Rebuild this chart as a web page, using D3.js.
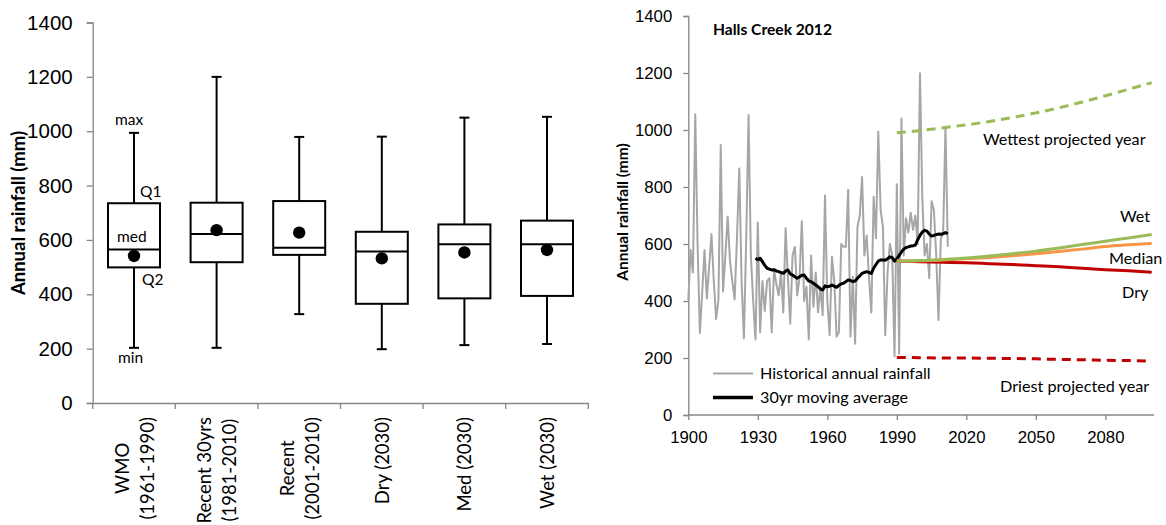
<!DOCTYPE html>
<html><head><meta charset="utf-8">
<script src="https://cdn.jsdelivr.net/npm/d3@7"></script>
<style>
html,body{margin:0;padding:0;background:#fff;}
svg{display:block;font-family:Lato,"Liberation Sans",Arial,sans-serif;}
</style></head>
<body><svg id="c" width="1166" height="525"></svg>
<script>
// ---------- Left chart data (box plots) ----------
const categories = [["WMO","(1961-1990)"],["Recent 30yrs","(1981-2010)"],["Recent","(2001-2010)"],["Dry (2030)"],["Med (2030)"],["Wet (2030)"]];
const boxMin  = [203, 203, 327, 198, 213, 217];
const boxQ1   = [499, 518, 545, 365, 385, 394];
const boxMed  = [565, 622, 571, 557, 584, 584];
const boxQ3   = [735, 737, 743, 630, 657, 671];
const boxMax  = [994, 1200, 979, 980, 1050, 1053];
const boxMean = [541, 636, 627, 532, 554, 563];
const leftTicks = [0,200,400,600,800,1000,1200,1400];

// ---------- Right chart data ----------
const histStart = 1900;
const histRain = [403,579,500,1055,600,288,430,579,409,520,635,470,337,403,947,433,560,696,540,470,406,620,865,470,269,620,1053,560,400,265,
675,290,470,365,470,480,290,510,460,420,500,360,655,480,320,560,590,420,480,680,400,450,265,560,380,500,360,450,350,770,
400,280,555,470,275,290,600,590,590,790,275,485,250,660,700,835,560,630,480,360,766,620,995,720,660,280,500,600,560,205,
810,215,1040,560,690,640,710,650,700,600,1199,760,560,600,480,750,720,560,333,620,640,1010,590];
const avgStart = 1929;
const movingAvg = [550,545,550,538,525,515,512,509,510,505,503,500,497,505,509,495,491,485,480,485,490,491,480,470,468,462,456,450,442,439,453,
450,452,456,452,448,455,460,462,468,474,472,468,470,480,488,497,500,503,500,497,515,528,540,544,544,543,548,555,552,540,
548,560,572,582,588,590,593,594,596,615,630,642,648,645,635,628,630,633,635,634,636,640,636];
const projYears = [1990,2000,2010,2020,2030,2040,2050,2060,2070,2080,2090,2100];
const wettest = [990,998,1008,1018,1030,1044,1060,1078,1098,1120,1143,1166];
const wet     = [540,542,546,551,558,566,575,586,598,610,621,633];
const median  = [540,541,544,548,553,559,566,574,582,591,597,602];
const dry     = [540,538,536,534,531,528,524,520,515,510,506,501];
const driest  = [202,201,200,200,199,198,197,195,194,192,191,189];
const rightYTicks = [0,200,400,600,800,1000,1200,1400];
const rightXTicks = [1900,1930,1960,1990,2020,2050,2080];

const svg = d3.select("#c");
const axisCol = "#868686";

// ================= LEFT CHART =================
const L = svg.append("g");
const xL = d3.scaleBand().domain(d3.range(categories.length)).range([92.7, 588.3]).padding(0);
const yL = d3.scaleLinear().domain([0,1400]).range([403, 22.5]);

const yAxL = L.append("g").attr("transform","translate(92.7,0)")
  .call(d3.axisLeft(yL).tickValues(leftTicks).tickSize(6).tickPadding(14).tickFormat(d3.format("d")));
const xAxL = L.append("g").attr("transform","translate(0,403)")
  .call(d3.axisBottom(xL).tickSize(0).tickFormat(""));
[yAxL, xAxL].forEach(a=>{ a.select(".domain").attr("stroke",axisCol).attr("stroke-width",1.3);
  a.selectAll(".tick line").attr("stroke",axisCol).attr("stroke-width",1.3); });
yAxL.selectAll(".tick text").attr("font-size",20.5).attr("fill","#000");
// category boundary ticks
const bounds = d3.range(categories.length+1).map(i => i < categories.length ? xL(i) : xL.range()[1]);
L.append("g").selectAll("line").data(bounds).join("line")
  .attr("x1",d=>d).attr("x2",d=>d).attr("y1",403).attr("y2",409)
  .attr("stroke",axisCol).attr("stroke-width",1.3);

// category labels (rotated)
const labG = L.append("g");
categories.forEach((lines,i)=>{
  const cx = xL(i) + xL.bandwidth()/2;
  const g = labG.append("g");
  const ts = lines.map((t,j)=> g.append("text").text(t).attr("font-size",18.5).attr("fill","#000")
      .attr("text-anchor","middle").attr("dominant-baseline","central"));
  const maxLen = d3.max(ts, t=>t.node().getComputedTextLength());
  const cy = 417 + maxLen/2;
  const n = lines.length;
  ts.forEach((t,j)=>{
    const off = (j - (n-1)/2) * 25;
    t.attr("transform",`translate(${cx+off},${cy}) rotate(-90)`);
  });
});

// boxes
const bw = 52, cap = 10;
const boxG = L.append("g").attr("stroke","#000").attr("stroke-width",2).attr("fill","none");
categories.forEach((c,i)=>{
  const cx = xL(i) + xL.bandwidth()/2;
  boxG.append("line").attr("x1",cx).attr("x2",cx).attr("y1",yL(boxMax[i])).attr("y2",yL(boxQ3[i]));
  boxG.append("line").attr("x1",cx).attr("x2",cx).attr("y1",yL(boxQ1[i])).attr("y2",yL(boxMin[i]));
  boxG.append("line").attr("x1",cx-cap/2).attr("x2",cx+cap/2).attr("y1",yL(boxMax[i])).attr("y2",yL(boxMax[i]));
  boxG.append("line").attr("x1",cx-cap/2).attr("x2",cx+cap/2).attr("y1",yL(boxMin[i])).attr("y2",yL(boxMin[i]));
  boxG.append("rect").attr("x",cx-bw/2).attr("width",bw).attr("y",yL(boxQ3[i])).attr("height",yL(boxQ1[i])-yL(boxQ3[i])).attr("fill","#fff");
  boxG.append("line").attr("x1",cx-bw/2).attr("x2",cx+bw/2).attr("y1",yL(boxMed[i])).attr("y2",yL(boxMed[i]));
  L.append("circle").attr("cx",cx).attr("cy",yL(boxMean[i])).attr("r",6.2).attr("fill","#000");
});

// annotations on first box
const ann = [["max",115,125],["Q1",140,197],["med",117,242],["Q2",142,285],["min",118,363]];
L.append("g").selectAll("text").data(ann).join("text")
  .attr("x",d=>d[1]).attr("y",d=>d[2]).text(d=>d[0]).attr("font-size",15.5).attr("fill","#000");

// y label
L.append("text").attr("transform","translate(25,213) rotate(-90)").attr("text-anchor","middle")
  .attr("font-size",18.5).attr("font-weight","bold").text("Annual rainfall (mm)");

// ================= RIGHT CHART =================
const R = svg.append("g");
const xR = d3.scaleLinear().domain([1900,2101]).range([688.3,1154]);
const yR = d3.scaleLinear().domain([0,1400]).range([415,16]);

const yAxR = R.append("g").attr("transform","translate(688.3,0)")
  .call(d3.axisLeft(yR).tickValues(rightYTicks).tickSize(5).tickPadding(11).tickFormat(d3.format("d")));
const xAxR = R.append("g").attr("transform","translate(0,415)")
  .call(d3.axisBottom(xR).tickValues(rightXTicks).tickSize(5).tickPadding(11).tickFormat(d3.format("d")));
[yAxR, xAxR].forEach(a=>{ a.select(".domain").attr("stroke",axisCol).attr("stroke-width",1.3);
  a.selectAll(".tick line").attr("stroke",axisCol).attr("stroke-width",1.3);
  a.selectAll(".tick text").attr("font-size",16.8).attr("fill","#000"); });
xAxR.select(".domain").attr("d","M688.3,0H1154");

const line = d3.line().x(d=>xR(d[0])).y(d=>yR(d[1]));
const smooth = d3.line().x(d=>xR(d[0])).y(d=>yR(d[1])).curve(d3.curveMonotoneX);

R.append("path").datum(histRain.map((v,i)=>[histStart+i,v])).attr("d",line)
  .attr("fill","none").attr("stroke","#A6A6A6").attr("stroke-width",2).attr("stroke-linejoin","round");
R.append("path").datum(movingAvg.map((v,i)=>[avgStart+i,v])).attr("d",line)
  .attr("fill","none").attr("stroke","#000").attr("stroke-width",3).attr("stroke-linejoin","round");

const proj = [[driest,"#C00000",true],[wettest,"#9BBB59",true],[dry,"#C00000",false],[median,"#F79646",false],[wet,"#9BBB59",false]];
proj.forEach(([vals,col,dash])=>{
  R.append("path").datum(vals.map((v,i)=>[projYears[i],v])).attr("d",smooth)
   .attr("fill","none").attr("stroke",col).attr("stroke-width",3)
   .attr("stroke-dasharray",dash?"9,6":null);
});

// title
R.append("text").attr("x",713).attr("y",35).attr("font-size",15.6).attr("font-weight","bold").text("Halls Creek 2012");
// y label
R.append("text").attr("transform","translate(628,212) rotate(-90)").attr("text-anchor","middle")
  .attr("font-size",15.5).attr("font-weight","bold").text("Annual rainfall (mm)");

// legend
const leg = [["Historical annual rainfall","#A6A6A6",2,373.5],["30yr moving average","#000",3.5,397.5]];
leg.forEach(([t,c,w,y])=>{
  R.append("line").attr("x1",713).attr("x2",753).attr("y1",y).attr("y2",y).attr("stroke",c).attr("stroke-width",w);
  R.append("text").attr("x",760).attr("y",y+5.5).attr("font-size",16.2).text(t);
});

// annotations
const rAnn = [["Wettest projected year",983,145],["Wet",1120,222],["Median",1109,264],["Dry",1122,298],["Driest projected year",1000,392]];
R.append("g").selectAll("text").data(rAnn).join("text")
  .attr("x",d=>d[1]).attr("y",d=>d[2]).attr("font-size",16.2).attr("fill","#000").text(d=>d[0]);
</script></body></html>
